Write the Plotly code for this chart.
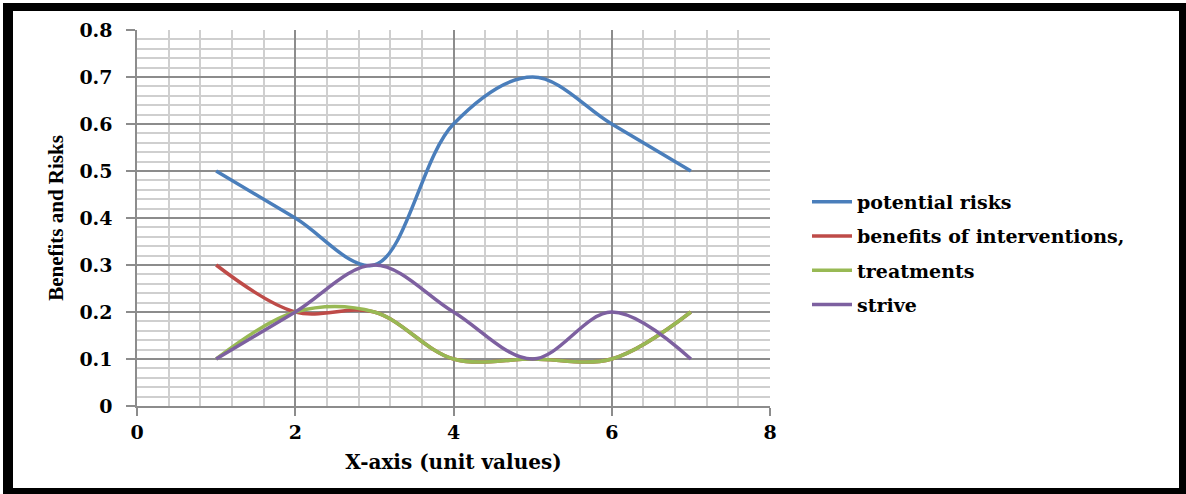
import plotly.graph_objects as go

# ---- data ----
x_vals = [1, 2, 3, 4, 5, 6, 7]
series_names = ["potential risks", "benefits of interventions,", "treatments", "strive"]
potential_risks = [0.5, 0.4, 0.3, 0.6, 0.7, 0.6, 0.5]
benefits = [0.3, 0.2, 0.2, 0.1, 0.1, 0.1, 0.2]
treatments = [0.1, 0.2, 0.2, 0.1, 0.1, 0.1, 0.2]
strive = [0.1, 0.2, 0.3, 0.2, 0.1, 0.2, 0.1]
series_values = [potential_risks, benefits, treatments, strive]
colors = ["#4A7EBB", "#BE4B48", "#98B954", "#7D60A0"]
x_ticks = [0, 2, 4, 6, 8]
y_ticks = [0, 0.1, 0.2, 0.3, 0.4, 0.5, 0.6, 0.7, 0.8]

W, H = 1186, 494
L, R, T, B = 137, 770, 30, 406  # plot area in pixels

fig = go.Figure()
for name, vals, col in zip(series_names, series_values, colors):
    fig.add_trace(go.Scatter(
        x=x_vals, y=vals, mode="lines", name=name, legendgroup=name,
        line=dict(color=col, width=3.5, shape="spline", smoothing=1.0),
    ))

FONT = "Liberation Serif"
WIDE = "DejaVu Serif"
grid_major = "#8C8C8C"
grid_minor = "#CFCFCF"

def px(xp):
    return (xp - L) / (R - L)

def py(yp):
    return (B - yp) / (B - T)

# black frame around the figure
frame = [
    (3, 3, 13, 494),
    (3, 3, 1186, 11),
    (1179, 3, 1186, 494),
    (3, 488, 1186, 494),
]
shapes = []
for x0, y0, x1, y1 in frame:
    shapes.append(dict(type="rect", xref="paper", yref="paper",
                       x0=px(x0), x1=px(x1), y0=py(y1), y1=py(y0),
                       fillcolor="black", line=dict(width=0), layer="above"))

fig.update_layout(
    width=W, height=H,
    margin=dict(l=L, r=W - R, t=T, b=H - B, autoexpand=False),
    paper_bgcolor="white", plot_bgcolor="white",
    font=dict(family=FONT, color="black"),
    shapes=shapes,
    legend=dict(
        x=px(807), y=py(183), xanchor="left", yanchor="top",
        font=dict(family=WIDE, size=19, color="black", weight="bold"),
        traceorder="grouped", tracegroupgap=6.5,
        bgcolor="rgba(0,0,0,0)", itemwidth=40,
    ),
    showlegend=True,
)

fig.update_xaxes(
    range=[0, 8], tickvals=x_ticks, ticktext=[str(v) for v in x_ticks],
    showgrid=True, gridcolor=grid_major, gridwidth=1.5,
    minor=dict(dtick=0.4, tick0=0, showgrid=True, gridcolor=grid_minor, gridwidth=2),
    showline=True, linecolor=grid_major, linewidth=1.5,
    ticks="outside", ticklen=8, tickcolor=grid_major, tickwidth=1.5,
    tickfont=dict(family=WIDE, size=19, color="black", weight="bold"),
    zeroline=False,
    title=dict(text="X-axis (unit values)", standoff=13,
               font=dict(family=WIDE, size=20, color="black", weight="bold")),
)
fig.update_yaxes(
    range=[0, 0.8], tickvals=y_ticks, ticktext=["0" if v == 0 else f"{v:.1f}" for v in y_ticks],
    showgrid=True, gridcolor=grid_major, gridwidth=1.5,
    minor=dict(dtick=0.02, tick0=0, showgrid=True, gridcolor=grid_minor, gridwidth=2),
    showline=True, linecolor=grid_major, linewidth=1.5,
    ticks="outside", ticklen=9, tickcolor=grid_major, tickwidth=1.5,
    ticklabelstandoff=10,
    tickfont=dict(family=WIDE, size=19, color="black", weight="bold"),
    zeroline=False,
    title=dict(text="Benefits and Risks", standoff=10,
               font=dict(family=FONT, size=21, color="black", weight="bold")),
)

fig.write_html("out.html", config={"displayModeBar": False},
               post_script="document.body.style.margin='0';")
